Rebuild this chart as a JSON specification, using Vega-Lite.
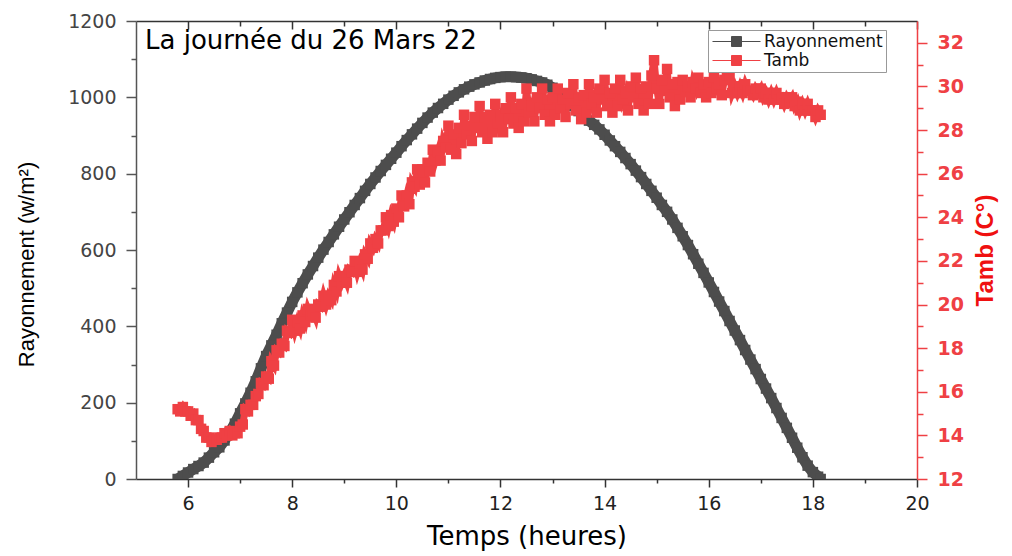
{
  "$schema": "https://vega.github.io/schema/vega-lite/v6.json",
  "width": 781,
  "height": 458,
  "autosize": {"type": "none"},
  "padding": {"left": 136, "top": 21, "right": 95, "bottom": 77},
  "background": "white",
  "title": {
    "text": "La journée du 26 Mars 22",
    "anchor": "start",
    "frame": "group",
    "font": "DejaVu Sans",
    "fontSize": 26,
    "fontWeight": "normal",
    "color": "#000000",
    "baseline": "alphabetic",
    "offset": -63,
    "dx": 9
  },
  "config": {
    "view": {"stroke": null},
    "axis": {
      "grid": false,
      "labelFont": "DejaVu Sans",
      "labelFontSize": 19,
      "titleFont": "Liberation Sans",
      "titleFontWeight": "normal",
      "titleColor": "#000000",
      "domainWidth": 1.5,
      "tickWidth": 1.5,
      "labelOverlap": false,
      "labelFlush": false,
      "format": "d"
    },
    "legend": {
      "orient": "none",
      "legendX": 572,
      "legendY": 9,
      "title": null,
      "symbolType": "M-4.8,0H-1M1,0H4.8M-1,-1H1V1H-1Z",
      "symbolSize": 100,
      "symbolStrokeWidth": 1,
      "symbolOffset": 17,
      "labelOffset": 19,
      "labelFont": "DejaVu Sans",
      "labelFontSize": 17,
      "labelColor": "#111111",
      "strokeColor": "#999999",
      "fillColor": "#ffffff",
      "padding": 3,
      "rowPadding": 1
    }
  },
  "datasets": {
    "ray": [
      {"t":5.8,"r":0},{"t":5.9,"r":8},{"t":6.0,"r":17},{"t":6.1,"r":26},{"t":6.2,"r":34},{"t":6.3,"r":43},{"t":6.4,"r":56},{"t":6.5,"r":70},{"t":6.6,"r":83},{"t":6.7,"r":101},{"t":6.8,"r":122},{"t":6.9,"r":145},
      {"t":7.0,"r":172},{"t":7.1,"r":198},{"t":7.2,"r":226},{"t":7.3,"r":256},{"t":7.4,"r":290},{"t":7.5,"r":322},{"t":7.6,"r":350},{"t":7.7,"r":378},{"t":7.8,"r":408},{"t":7.9,"r":436},
      {"t":8.0,"r":464},{"t":8.1,"r":489},{"t":8.2,"r":513},{"t":8.3,"r":536},{"t":8.4,"r":558},{"t":8.5,"r":580},{"t":8.6,"r":601},{"t":8.7,"r":621},{"t":8.8,"r":641},{"t":8.9,"r":661},
      {"t":9.0,"r":680},{"t":9.1,"r":699},{"t":9.2,"r":718},{"t":9.3,"r":736},{"t":9.4,"r":755},{"t":9.5,"r":773},{"t":9.6,"r":790},{"t":9.7,"r":807},{"t":9.8,"r":823},{"t":9.9,"r":839},
      {"t":10.0,"r":855},{"t":10.1,"r":872},{"t":10.2,"r":888},{"t":10.3,"r":903},{"t":10.4,"r":918},{"t":10.5,"r":933},{"t":10.6,"r":947},{"t":10.7,"r":960},{"t":10.8,"r":972},{"t":10.9,"r":983},
      {"t":11.0,"r":994},{"t":11.1,"r":1004},{"t":11.2,"r":1013},{"t":11.3,"r":1021},{"t":11.4,"r":1028},{"t":11.5,"r":1034},{"t":11.6,"r":1039},{"t":11.7,"r":1044},{"t":11.8,"r":1048},{"t":11.9,"r":1051},
      {"t":12.0,"r":1053},{"t":12.1,"r":1054},{"t":12.2,"r":1054},{"t":12.3,"r":1053},{"t":12.4,"r":1052},{"t":12.5,"r":1050},{"t":12.6,"r":1047},{"t":12.7,"r":1043},{"t":12.8,"r":1039},{"t":12.9,"r":1033},
      {"t":13.0,"r":1025},{"t":13.1,"r":1015},{"t":13.2,"r":1003},{"t":13.3,"r":990},{"t":13.4,"r":977},{"t":13.5,"r":964},{"t":13.6,"r":951},{"t":13.7,"r":939},{"t":13.8,"r":928},{"t":13.9,"r":916},
      {"t":14.0,"r":902},{"t":14.1,"r":887},{"t":14.2,"r":872},{"t":14.3,"r":857},{"t":14.4,"r":841},{"t":14.5,"r":825},{"t":14.6,"r":808},{"t":14.7,"r":791},{"t":14.8,"r":773},{"t":14.9,"r":755},
      {"t":15.0,"r":737},{"t":15.1,"r":718},{"t":15.2,"r":700},{"t":15.3,"r":680},{"t":15.4,"r":658},{"t":15.5,"r":636},{"t":15.6,"r":613},{"t":15.7,"r":589},{"t":15.8,"r":564},{"t":15.9,"r":540},
      {"t":16.0,"r":515},{"t":16.1,"r":490},{"t":16.2,"r":465},{"t":16.3,"r":440},{"t":16.4,"r":414},{"t":16.5,"r":389},{"t":16.6,"r":364},{"t":16.7,"r":338},{"t":16.8,"r":313},{"t":16.9,"r":288},
      {"t":17.0,"r":262},{"t":17.1,"r":237},{"t":17.2,"r":212},{"t":17.3,"r":186},{"t":17.4,"r":160},{"t":17.5,"r":134},{"t":17.6,"r":108},{"t":17.7,"r":82},{"t":17.8,"r":57},{"t":17.9,"r":35},
      {"t":18.0,"r":18},{"t":18.1,"r":6},{"t":18.15,"r":0}
    ],
    "tamb": [
      {"t":5.80,"c":15.2},{"t":5.85,"c":15.1},{"t":5.90,"c":15.3},{"t":5.95,"c":15.1},{"t":6.00,"c":15.1},{"t":6.05,"c":14.9},{"t":6.10,"c":15.0},{"t":6.15,"c":14.7},{"t":6.20,"c":14.7},{"t":6.25,"c":14.3},
      {"t":6.30,"c":14.2},{"t":6.35,"c":13.9},{"t":6.40,"c":13.9},{"t":6.45,"c":13.7},{"t":6.50,"c":13.8},{"t":6.55,"c":13.8},{"t":6.60,"c":13.9},{"t":6.65,"c":13.9},{"t":6.70,"c":14.1},{"t":6.75,"c":14.0},
      {"t":6.80,"c":14.2},{"t":6.85,"c":14.0},{"t":6.90,"c":14.1},{"t":6.95,"c":14.1},{"t":7.00,"c":14.4},{"t":7.05,"c":14.5},{"t":7.10,"c":15.2},{"t":7.15,"c":15.1},{"t":7.20,"c":15.4},{"t":7.25,"c":15.4},
      {"t":7.30,"c":15.8},{"t":7.35,"c":15.9},{"t":7.40,"c":16.4},{"t":7.45,"c":16.3},{"t":7.50,"c":16.7},{"t":7.55,"c":16.6},{"t":7.60,"c":17.4},{"t":7.65,"c":17.2},{"t":7.70,"c":17.9},{"t":7.75,"c":17.8},
      {"t":7.80,"c":18.2},{"t":7.85,"c":18.1},{"t":7.90,"c":18.8},{"t":7.95,"c":18.7},{"t":8.00,"c":19.3},{"t":8.05,"c":18.8},{"t":8.10,"c":19.2},{"t":8.15,"c":18.9},{"t":8.20,"c":19.5},{"t":8.25,"c":19.2},
      {"t":8.30,"c":19.8},{"t":8.35,"c":19.5},{"t":8.40,"c":19.7},{"t":8.45,"c":19.4},{"t":8.50,"c":20.0},{"t":8.55,"c":19.9},{"t":8.60,"c":20.4},{"t":8.65,"c":20.0},{"t":8.70,"c":20.4},{"t":8.75,"c":20.2},
      {"t":8.80,"c":20.9},{"t":8.85,"c":20.6},{"t":8.90,"c":21.3},{"t":8.95,"c":21.0},{"t":9.00,"c":21.3},{"t":9.05,"c":21.0},{"t":9.10,"c":21.6},{"t":9.15,"c":21.5},{"t":9.20,"c":22.0},{"t":9.25,"c":21.5},
      {"t":9.30,"c":21.9},{"t":9.35,"c":21.6},{"t":9.40,"c":22.3},{"t":9.45,"c":22.1},{"t":9.50,"c":22.8},{"t":9.55,"c":22.6},{"t":9.60,"c":23.0},{"t":9.65,"c":22.8},{"t":9.70,"c":23.4},{"t":9.75,"c":23.4},
      {"t":9.80,"c":24.0},{"t":9.85,"c":23.6},{"t":9.90,"c":24.1},{"t":9.95,"c":23.8},{"t":10.00,"c":24.4},{"t":10.05,"c":24.0},{"t":10.10,"c":25.0},{"t":10.15,"c":24.5},{"t":10.20,"c":25.0},{"t":10.25,"c":24.6},
      {"t":10.30,"c":25.6},{"t":10.35,"c":25.4},{"t":10.40,"c":26.2},{"t":10.45,"c":25.5},{"t":10.50,"c":26.2},{"t":10.55,"c":25.6},{"t":10.60,"c":26.5},{"t":10.65,"c":26.1},{"t":10.70,"c":27.1},{"t":10.75,"c":26.6},
      {"t":10.80,"c":27.0},{"t":10.85,"c":26.6},{"t":10.90,"c":27.5},{"t":10.95,"c":27.2},{"t":11.00,"c":28.2},{"t":11.05,"c":27.1},{"t":11.10,"c":27.8},{"t":11.15,"c":26.9},{"t":11.20,"c":28.1},{"t":11.25,"c":27.4},
      {"t":11.30,"c":28.7},{"t":11.35,"c":27.8},{"t":11.40,"c":28.2},{"t":11.45,"c":27.5},{"t":11.50,"c":28.6},{"t":11.55,"c":28.1},{"t":11.60,"c":29.1},{"t":11.65,"c":27.9},{"t":11.70,"c":28.6},{"t":11.75,"c":27.6},
      {"t":11.80,"c":28.7},{"t":11.85,"c":27.9},{"t":11.90,"c":29.2},{"t":11.95,"c":28.3},{"t":12.00,"c":28.6},{"t":12.05,"c":27.9},{"t":12.10,"c":29.0},{"t":12.15,"c":28.5},{"t":12.20,"c":29.5},{"t":12.25,"c":28.3},
      {"t":12.30,"c":29.0},{"t":12.35,"c":28.1},{"t":12.40,"c":29.2},{"t":12.45,"c":28.4},{"t":12.50,"c":29.9},{"t":12.55,"c":28.8},{"t":12.60,"c":29.1},{"t":12.65,"c":28.4},{"t":12.70,"c":29.5},{"t":12.75,"c":29.0},
      {"t":12.80,"c":29.9},{"t":12.85,"c":28.7},{"t":12.90,"c":29.4},{"t":12.95,"c":28.4},{"t":13.00,"c":29.5},{"t":13.05,"c":28.7},{"t":13.10,"c":29.9},{"t":13.15,"c":29.0},{"t":13.20,"c":29.4},{"t":13.25,"c":28.6},
      {"t":13.30,"c":29.7},{"t":13.35,"c":29.2},{"t":13.40,"c":30.1},{"t":13.45,"c":28.9},{"t":13.50,"c":29.5},{"t":13.55,"c":28.5},{"t":13.60,"c":29.6},{"t":13.65,"c":28.8},{"t":13.70,"c":30.1},{"t":13.75,"c":29.2},
      {"t":13.80,"c":29.5},{"t":13.85,"c":28.8},{"t":13.90,"c":29.9},{"t":13.95,"c":29.4},{"t":14.00,"c":30.3},{"t":14.05,"c":29.1},{"t":14.10,"c":29.7},{"t":14.15,"c":28.8},{"t":14.20,"c":29.9},{"t":14.25,"c":29.1},
      {"t":14.30,"c":30.3},{"t":14.35,"c":29.4},{"t":14.40,"c":29.7},{"t":14.45,"c":28.9},{"t":14.50,"c":30.0},{"t":14.55,"c":29.5},{"t":14.60,"c":30.4},{"t":14.65,"c":29.2},{"t":14.70,"c":29.9},{"t":14.75,"c":28.9},
      {"t":14.80,"c":30.0},{"t":14.85,"c":29.2},{"t":14.90,"c":30.5},{"t":14.95,"c":31.2},{"t":15.00,"c":29.9},{"t":15.05,"c":29.2},{"t":15.10,"c":30.3},{"t":15.15,"c":29.8},{"t":15.20,"c":30.8},{"t":15.25,"c":29.5},
      {"t":15.30,"c":30.1},{"t":15.35,"c":29.1},{"t":15.40,"c":30.2},{"t":15.45,"c":29.4},{"t":15.50,"c":30.3},{"t":15.55,"c":29.8},{"t":15.60,"c":30.0},{"t":15.65,"c":29.5},{"t":15.70,"c":30.2},{"t":15.75,"c":29.9},
      {"t":15.80,"c":30.4},{"t":15.85,"c":29.7},{"t":15.90,"c":30.1},{"t":15.95,"c":29.5},{"t":16.00,"c":30.2},{"t":16.05,"c":29.7},{"t":16.10,"c":30.4},{"t":16.15,"c":29.9},{"t":16.20,"c":30.1},{"t":16.25,"c":29.6},
      {"t":16.30,"c":30.3},{"t":16.35,"c":30.5},{"t":16.40,"c":30.5},{"t":16.45,"c":29.7},{"t":16.50,"c":30.0},{"t":16.55,"c":29.7},{"t":16.60,"c":30.0},{"t":16.65,"c":29.7},{"t":16.70,"c":30.1},{"t":16.75,"c":29.8},
      {"t":16.80,"c":29.8},{"t":16.85,"c":29.6},{"t":16.90,"c":29.9},{"t":16.95,"c":29.7},{"t":17.00,"c":29.9},{"t":17.05,"c":29.5},{"t":17.10,"c":29.7},{"t":17.15,"c":29.4},{"t":17.20,"c":29.7},{"t":17.25,"c":29.4},
      {"t":17.30,"c":29.7},{"t":17.35,"c":29.4},{"t":17.40,"c":29.5},{"t":17.45,"c":29.2},{"t":17.50,"c":29.5},{"t":17.55,"c":29.3},{"t":17.60,"c":29.5},{"t":17.65,"c":29.1},{"t":17.70,"c":29.3},{"t":17.75,"c":28.9},
      {"t":17.80,"c":29.2},{"t":17.85,"c":28.9},{"t":17.90,"c":29.2},{"t":17.95,"c":28.9},{"t":18.00,"c":28.9},{"t":18.05,"c":28.6},{"t":18.10,"c":28.9},{"t":18.15,"c":28.7}
    ]
  },
  "layer": [
    {
      "data": {"name": "ray"},
      "mark": {"type": "line", "strokeWidth": 11, "clip": true},
      "encoding": {
        "x": {
          "field": "t", "type": "quantitative",
          "scale": {"domain": [5, 20], "nice": false, "zero": false},
          "axis": {
            "orient": "bottom",
            "values": [6, 8, 10, 12, 14, 16, 18, 20],
            "tickSize": 8,
            "labelPadding": 7,
            "domainColor": "#333333",
            "tickColor": "#333333",
            "labelColor": "#222222",
            "title": "Temps (heures)",
            "titleFont": "DejaVu Sans",
            "titleFontSize": 26,
            "titlePadding": 10
          }
        },
        "y": {
          "field": "r", "type": "quantitative",
          "scale": {"domain": [0, 1200], "nice": false},
          "axis": {
            "orient": "left",
            "values": [0, 200, 400, 600, 800, 1000, 1200],
            "tickSize": 10,
            "labelPadding": 10,
            "domainColor": "#555555",
            "tickColor": "#555555",
            "labelColor": "#444444",
            "title": "Rayonnement (w/m²)",
            "titleFontSize": 22,
            "titlePadding": 29,
            "titleY": 243
          }
        },
        "color": {
          "datum": "Rayonnement", "type": "nominal",
          "scale": {"domain": ["Rayonnement", "Tamb"], "range": ["#4D4D4D", "#EF4044"]}
        }
      }
    },
    {
      "data": {"name": "ray"},
      "mark": {"type": "square", "size": 110, "opacity": 1, "clip": true},
      "encoding": {
        "x": {"field": "t", "type": "quantitative", "scale": {"domain": [5, 20], "nice": false, "zero": false}, "axis": null},
        "y": {"field": "r", "type": "quantitative", "scale": {"domain": [0, 1200], "nice": false}, "axis": null},
        "color": {"datum": "Rayonnement", "type": "nominal"}
      }
    },
    {
      "data": {"name": "tamb"},
      "mark": {"type": "line", "strokeWidth": 7, "clip": true},
      "encoding": {
        "x": {"field": "t", "type": "quantitative", "scale": {"domain": [5, 20], "nice": false, "zero": false}, "axis": null},
        "y": {"field": "c", "type": "quantitative", "scale": {"domain": [12, 33], "nice": false, "zero": false}, "axis": null},
        "color": {"datum": "Tamb", "type": "nominal"}
      }
    },
    {
      "data": {"name": "tamb"},
      "mark": {"type": "square", "size": 110, "opacity": 1, "clip": true},
      "encoding": {
        "x": {
          "field": "t", "type": "quantitative",
          "scale": {"domain": [5, 20], "nice": false, "zero": false},
          "axis": {
            "orient": "top",
            "values": [6, 8, 10, 12, 14, 16, 18, 20],
            "tickSize": -8,
            "labels": false,
            "title": null,
            "domainColor": "#333333",
            "tickColor": "#333333"
          }
        },
        "y": {
          "field": "c", "type": "quantitative",
          "scale": {"domain": [12, 33], "nice": false, "zero": false},
          "axis": {
            "orient": "right",
            "values": [12, 14, 16, 18, 20, 22, 24, 26, 28, 30, 32],
            "tickSize": 10,
            "labelPadding": 10,
            "domainColor": "#EF4044",
            "tickColor": "#EF4044",
            "labelColor": "#EF4044",
            "labelFontWeight": "bold",
            "title": "Tamb (C°)",
            "titleColor": "#EF1010",
            "titleFont": "Liberation Sans",
            "titleFontWeight": "bold",
            "titleFontSize": 24,
            "titleAngle": 270,
            "titleBaseline": "top",
            "titlePadding": 10
          }
        },
        "color": {"datum": "Tamb", "type": "nominal"}
      }
    },
    {
      "data": {"name": "ray"},
      "mark": {"type": "point", "opacity": 0},
      "encoding": {
        "x": {
          "field": "t", "type": "quantitative",
          "scale": {"domain": [5, 20], "nice": false, "zero": false},
          "axis": {"orient": "bottom", "values": [7, 9, 11, 13, 15, 17, 19], "tickSize": 4, "labels": false, "domain": false, "title": null, "tickColor": "#333333"}
        },
        "y": {
          "field": "r", "type": "quantitative",
          "scale": {"domain": [0, 1200], "nice": false},
          "axis": {"orient": "left", "values": [100, 300, 500, 700, 900, 1100], "tickSize": 5, "labels": false, "domain": false, "title": null, "tickColor": "#555555"}
        }
      }
    },
    {
      "data": {"name": "tamb"},
      "mark": {"type": "point", "opacity": 0},
      "encoding": {
        "x": {
          "field": "t", "type": "quantitative",
          "scale": {"domain": [5, 20], "nice": false, "zero": false},
          "axis": {"orient": "top", "values": [7, 9, 11, 13, 15, 17, 19], "tickSize": -5, "labels": false, "domain": false, "title": null, "tickColor": "#333333"}
        },
        "y": {
          "field": "c", "type": "quantitative",
          "scale": {"domain": [12, 33], "nice": false, "zero": false},
          "axis": {"orient": "right", "values": [13, 15, 17, 19, 21, 23, 25, 27, 29, 31], "tickSize": 6, "labels": false, "domain": false, "title": null, "tickColor": "#EF4044"}
        }
      }
    }
  ],
  "resolve": {
    "scale": {"x": "independent", "y": "independent"},
    "axis": {"x": "independent", "y": "independent"}
  }
}
